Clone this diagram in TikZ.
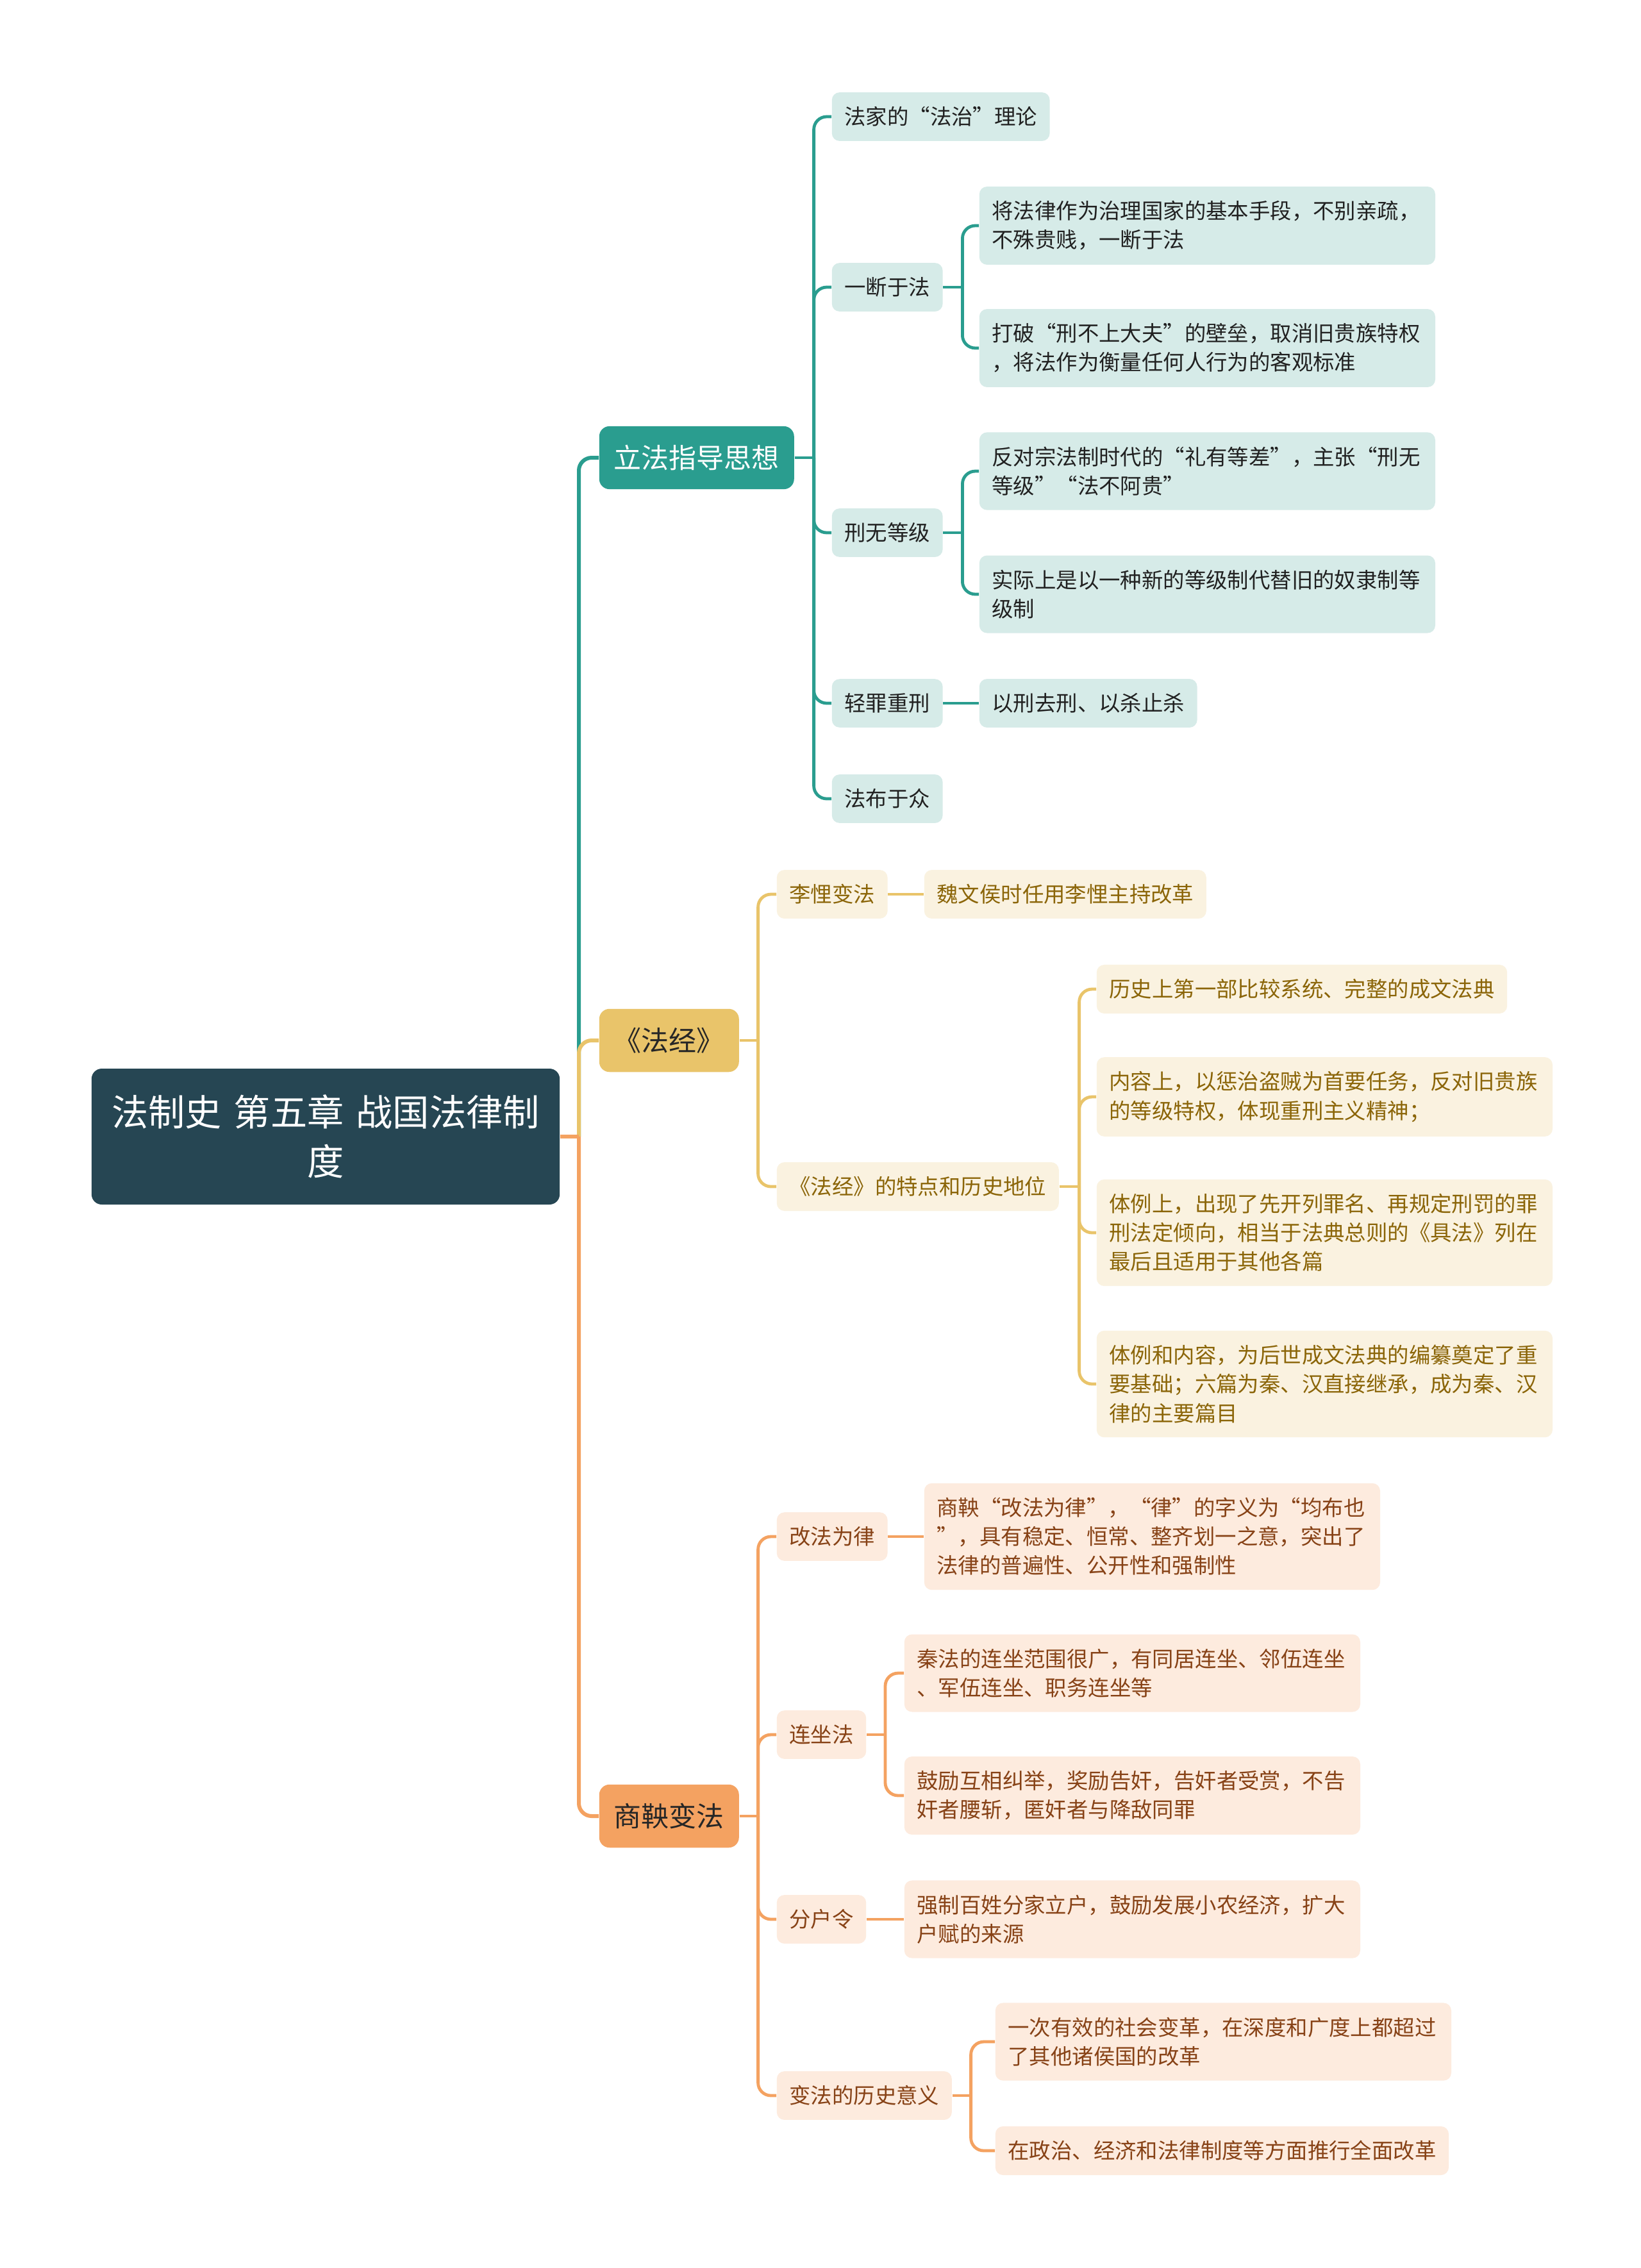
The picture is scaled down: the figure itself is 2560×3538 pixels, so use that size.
\documentclass[tikz,border=0pt]{standalone}
\usepackage{fontspec}
\newfontfamily\cjk{Noto Sans CJK SC}
\usetikzlibrary{positioning}
\definecolor{rootbg}{RGB}{38,70,83}
\definecolor{cA}{RGB}{42,157,143}\definecolor{cB}{RGB}{233,196,106}\definecolor{cC}{RGB}{244,162,97}
\definecolor{cAl}{RGB}{214,235,232}\definecolor{cBl}{RGB}{250,242,224}\definecolor{cCl}{RGB}{253,235,222}
\definecolor{cBt}{RGB}{139,101,8}\definecolor{cCt}{RGB}{135,66,22}

\begin{document}
\begin{tikzpicture}[x=0.25pt,y=-0.25pt,
  box/.style={rounded corners=3pt,anchor=west,inner xsep=4.9pt,inner ysep=5.6pt,font=\cjk\fontsize{8.35pt}{11.3pt}\selectfont},
  wide/.style={text width=168pt,align=left},
  leafA/.style={box,fill=cAl,text=black!87},
  leafB/.style={box,fill=cBl,text=cBt},
  leafC/.style={box,fill=cCl,text=cCt},
  mainbox/.style={rounded corners=4pt,anchor=west,inner xsep=5.75pt,inner ysep=7.3pt,font=\cjk\fontsize{10.75pt}{13pt}\selectfont},
  rootbox/.style={rounded corners=4pt,anchor=west,fill=rootbg,text=white,text width=172pt,align=center,inner xsep=5.3pt,minimum height=53pt,font=\cjk\fontsize{14.3pt}{19.2pt}\selectfont},
  lnR/.style={line width=1.5pt,rounded corners=5pt},
  lnA/.style={cA,line width=1.2pt,rounded corners=5pt},
  lnB/.style={cB,line width=1.2pt,rounded corners=5pt},
  lnC/.style={cC,line width=1.2pt,rounded corners=5pt}]
\useasboundingbox (0,0) rectangle (2560,3538);
\fill[white] (0,0) rectangle (2560,3538);
% centro
\node[rootbox] (root) at (142,1773) {法制史 第五章 战国法律制\\度};
\node[mainbox,fill=cA,text=white] (l1) at (934,714) {立法指导思想};
\node[mainbox,fill=cB,text=black!85] (l2) at (934,1623) {《法经》};
\node[mainbox,fill=cC,text=black!85] (l3) at (934,2833) {商鞅变法};
%立法指导思想
\node[leafA] (a1) at (1297,182) {法家的“法治”理论};
\node[leafA] (a2) at (1297,448) {一断于法};
\node[leafA] (a3) at (1297,831) {刑无等级};
\node[leafA] (a4) at (1297,1097) {轻罪重刑};
\node[leafA] (a5) at (1297,1246) {法布于众};
\node[leafA,wide] (a21) at (1527,352) {将法律作为治理国家的基本手段，不别亲疏，\\不殊贵贱，一断于法};
\node[leafA,wide] (a22) at (1527,543) {打破“刑不上大夫”的壁垒，取消旧贵族特权\\，将法作为衡量任何人行为的客观标准};
\node[leafA,wide] (a31) at (1527,735) {反对宗法制时代的“礼有等差”，主张“刑无\\等级”“法不阿贵”};
\node[leafA,wide] (a32) at (1527,927) {实际上是以一种新的等级制代替旧的奴隶制等\\级制};
\node[leafA] (a41) at (1527,1097) {以刑去刑、以杀止杀};
% 法经
\node[leafB] (b1) at (1211,1395) {李悝变法};
\node[leafB] (b2) at (1211,1851) {《法经》的特点和历史地位};
\node[leafB] (b11) at (1441,1395) {魏文侯时任用李悝主持改革};
\node[leafB] (b21) at (1710,1543) {历史上第一部比较系统、完整的成文法典};
\node[leafB,wide] (b22) at (1710,1711) {内容上，以惩治盗贼为首要任务，反对旧贵族\\的等级特权，体现重刑主义精神；};
\node[leafB,wide] (b23) at (1710,1923) {体例上，出现了先开列罪名、再规定刑罚的罪\\刑法定倾向，相当于法典总则的《具法》列在\\最后且适用于其他各篇};
\node[leafB,wide] (b24) at (1710,2159) {体例和内容，为后世成文法典的编纂奠定了重\\要基础；六篇为秦、汉直接继承，成为秦、汉\\律的主要篇目};
% 商鞅变法
\node[leafC] (c1) at (1211,2397) {改法为律};
\node[leafC] (c2) at (1211,2706) {连坐法};
\node[leafC] (c3) at (1211,2994) {分户令};
\node[leafC] (c4) at (1211,3269) {变法的历史意义};
\node[leafC,wide] (c11) at (1441,2397) {商鞅“改法为律”，“律”的字义为“均布也\\”，具有稳定、恒常、整齐划一之意，突出了\\法律的普遍性、公开性和强制性};
\node[leafC,wide] (c21) at (1410,2610) {秦法的连坐范围很广，有同居连坐、邻伍连坐\\、军伍连坐、职务连坐等};
\node[leafC,wide] (c22) at (1410,2801) {鼓励互相纠举，奖励告奸，告奸者受赏，不告\\奸者腰斩，匿奸者与降敌同罪};
\node[leafC,wide] (c31) at (1410,2994) {强制百姓分家立户，鼓励发展小农经济，扩大\\户赋的来源};
\node[leafC,wide] (c41) at (1552,3185) {一次有效的社会变革，在深度和广度上都超过\\了其他诸侯国的改革};
\node[leafC] (c42) at (1552,3355) {在政治、经济和法律制度等方面推行全面改革};
% conectores
\draw[lnR,cA] (root.east) ++(29,0) |- (l1.west);
\draw[lnR,cB] (root.east) ++(29,0) |- (l2.west);
\draw[lnR,cC] (root.east) ++(29,0) |- (l3.west);
\draw[lnR,cC] (root.east) -- ++(29,0);
\draw[lnA] (l1.east) -- ++(30,0);
\foreach \c in {a1,a2,a3,a4,a5} \draw[lnA] (l1.east) ++(30,0) |- (\c.west);
\draw[lnA] (a2.east) -- ++(30,0);
\foreach \c in {a21,a22} \draw[lnA] (a2.east) ++(30,0) |- (\c.west);
\draw[lnA] (a3.east) -- ++(30,0);
\foreach \c in {a31,a32} \draw[lnA] (a3.east) ++(30,0) |- (\c.west);
\draw[lnA] (a4.east) -- (a41.west);
\draw[lnB] (l2.east) -- ++(29,0);
\foreach \c in {b1,b2} \draw[lnB] (l2.east) ++(29,0) |- (\c.west);
\draw[lnB] (b1.east) -- (b11.west);
\draw[lnB] (b2.east) -- ++(31,0);
\foreach \c in {b21,b22,b23,b24} \draw[lnB] (b2.east) ++(31,0) |- (\c.west);
\draw[lnC] (l3.east) -- ++(29,0);
\foreach \c in {c1,c2,c3,c4} \draw[lnC] (l3.east) ++(29,0) |- (\c.west);
\draw[lnC] (c1.east) -- (c11.west);
\draw[lnC] (c2.east) -- ++(29,0);
\foreach \c in {c21,c22} \draw[lnC] (c2.east) ++(29,0) |- (\c.west);
\draw[lnC] (c3.east) -- (c31.west);
\draw[lnC] (c4.east) -- ++(29,0);
\foreach \c in {c41,c42} \draw[lnC] (c4.east) ++(29,0) |- (\c.west);
\end{tikzpicture}
\end{document}
